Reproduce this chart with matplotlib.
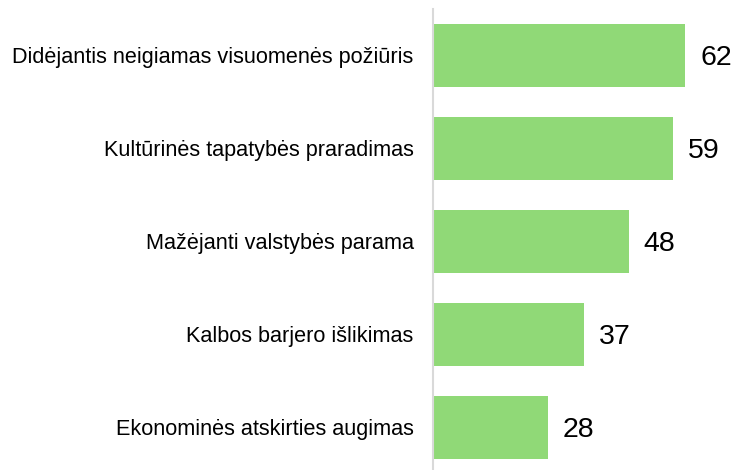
import matplotlib.pyplot as plt

categories = [
    "Didėjantis neigiamas visuomenės požiūris",
    "Kultūrinės tapatybės praradimas",
    "Mažėjanti valstybės parama",
    "Kalbos barjero išlikimas",
    "Ekonominės atskirties augimas",
]
values = [62, 59, 48, 37, 28]

plt.rcParams['font.family'] = ['Liberation Sans', 'DejaVu Sans']

fig = plt.figure(figsize=(7.41, 4.70), dpi=100)
ax = fig.add_axes([433 / 741, 0, 308 / 741, 461 / 470])

pos = list(range(len(categories)))
ax.barh(pos, values, height=0.68, color='#90D977', left=0.3)
for p, v in zip(pos, values):
    ax.text(v + 3.9, p, str(v), va='center_baseline', ha='left', fontsize=20.5, color='black')

ax.set_xlim(0, 76)
ax.set_ylim(4.457, -0.5)
ax.set_yticks(pos)
ax.set_yticklabels(categories, fontsize=15.6)
ax.tick_params(axis='y', length=0, pad=14)
ax.set_xticks([])
for s in ['top', 'right', 'bottom']:
    ax.spines[s].set_visible(False)
ax.spines['left'].set_color('#D9D9D9')
ax.spines['left'].set_linewidth(1.5)

fig.savefig('out.png', dpi=100)
